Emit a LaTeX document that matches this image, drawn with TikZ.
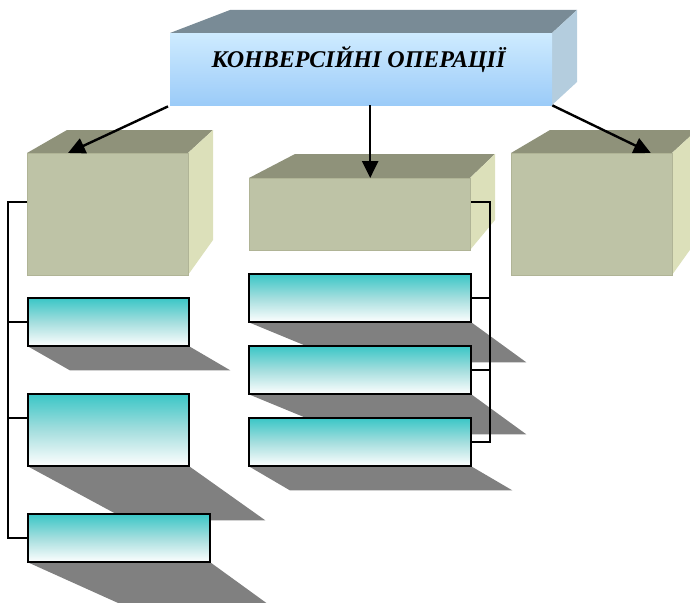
\documentclass[tikz,border=0pt]{standalone}
\usepackage{fontspec}
\setmainfont{Liberation Serif}
\usetikzlibrary{arrows.meta,calc}
\definecolor{frontC}{RGB}{190,195,166}
\definecolor{frontE}{RGB}{176,180,150}
\definecolor{topC}{RGB}{143,146,122}
\definecolor{sideC}{RGB}{220,224,186}
\definecolor{tfrontA}{RGB}{206,235,255}
\definecolor{tfrontB}{RGB}{155,203,248}
\definecolor{ttop}{RGB}{121,139,150}
\definecolor{tside}{RGB}{180,205,222}
\definecolor{tealA}{RGB}{58,198,198}
\definecolor{tealM}{RGB}{165,222,222}
\definecolor{shadowC}{RGB}{128,128,128}
\tikzset{
  cubefront/.style={anchor=north west, inner sep=0pt, fill=frontC, draw=frontE, line width=0.8pt},
  cubetop/.style={fill=topC},
  cubeside/.style={fill=sideC},
  leafpos/.style={anchor=north west, inner sep=0pt},
  leafbox/.style={draw=black, line width=2pt, top color=tealA, bottom color=white, middle color=tealM},
  shadowpoly/.style={fill=shadowC},
  conn/.style={draw=black, line width=2pt},
  mainarrow/.style={draw=black, line width=2.4pt, -{Triangle[length=17pt,width=16pt]}},
  titlefont/.style={font=\fontsize{24}{28}\selectfont\bfseries\itshape}
}
\begin{document}
\begin{tikzpicture}[x=1pt,y=-1pt]
\useasboundingbox (0,0) rectangle (690,602);
\clip (0,0) rectangle (690,602);

% leaf boxes (named positions)
\path (28,298) node[leafpos, minimum width=161pt, minimum height=48pt] (l1) {};
\path (28,394) node[leafpos, minimum width=161pt, minimum height=72pt] (l2) {};
\path (28,514) node[leafpos, minimum width=182pt, minimum height=48pt] (l3) {};
\path (249,274) node[leafpos, minimum width=222pt, minimum height=48pt] (m1) {};
\path (249,346) node[leafpos, minimum width=222pt, minimum height=48pt] (m2) {};
\path (249,418) node[leafpos, minimum width=222pt, minimum height=48pt] (m3) {};

% shadows
\fill[shadowpoly] (l1.south west) -- (l1.south east) -- ++(41,24) -- ($(l1.south west)+(42,24)$) -- cycle;
\fill[shadowpoly] (l2.south west) -- (l2.south east) -- ++(76,54) -- ($(l2.south west)+(100,54)$) -- cycle;
\fill[shadowpoly] (l3.south west) -- (l3.south east) -- ++(69,50) -- ($(l3.south west)+(111,50)$) -- cycle;
\fill[shadowpoly] (m1.south west) -- (m1.south east) -- ++(55,40) -- ($(m1.south west)+(97,40)$) -- cycle;
\fill[shadowpoly] (m2.south west) -- (m2.south east) -- ++(55,40) -- ($(m2.south west)+(97,40)$) -- cycle;
\fill[shadowpoly] (m3.south west) -- (m3.south east) -- ++(41,24) -- ($(m3.south west)+(41,24)$) -- cycle;

% title box
\fill[ttop] (170,33) -- (230,10) -- (577,10) -- (552,33) -- cycle;
\fill[tside] (552,33) -- (577,10) -- (577,82) -- (552,105) -- cycle;
\node[anchor=north west, inner sep=0pt, minimum width=382pt, minimum height=72pt,
      top color=tfrontA, bottom color=tfrontB] (top) at (170,33) {};
\node[titlefont, anchor=base] (title) at (358.5,67) {КОНВЕРСІЙНІ ОПЕРАЦІЇ};

% left cube
\fill[cubetop] (27,153) -- (67,130) -- (213,130) -- (188,153) -- cycle;
\fill[cubeside] (188,153) -- (213,130) -- (213,240) -- (188,275) -- cycle;
\node[cubefront, minimum width=161pt, minimum height=122pt] (L) at (27,153) {};

% middle cube
\fill[cubetop] (249,178) -- (295,154) -- (495,154) -- (470,178) -- cycle;
\fill[cubeside] (470,178) -- (495,154) -- (495,220) -- (470,250) -- cycle;
\node[cubefront, minimum width=221pt, minimum height=72pt] (M) at (249,178) {};

% right cube
\fill[cubetop] (511,153) -- (550,130) -- (697,130) -- (672,153) -- cycle;
\fill[cubeside] (672,153) -- (697,130) -- (697,240) -- (672,275) -- cycle;
\node[cubefront, minimum width=161pt, minimum height=122pt] (R) at (511,153) {};

% connectors
\coordinate (Lc) at ($(L.north west)+(0,49)$);
\coordinate (lbus) at (8,202);
\coordinate (l2c) at ($(l2.north west)+(0,24)$);
\draw[conn] (Lc) -- (lbus) -- (lbus |- l3.west) -- (l3.west);
\draw[conn] (lbus |- l1.west) -- (l1.west);
\draw[conn] (lbus |- l2c) -- (l2c);
\coordinate (Mc) at ($(M.north east)+(0,24)$);
\coordinate (mbus) at (490,202);
\draw[conn] (Mc) -- (mbus) -- (mbus |- m3.east) -- (m3.east);
\draw[conn] (m1.east) -- (m1.east -| mbus);
\draw[conn] (m2.east) -- (m2.east -| mbus);

% leaf boxes drawn
\foreach \n in {l1,l2,l3,m1,m2,m3}{
  \path[leafbox] (\n.north west) rectangle (\n.south east);
}

% arrows
\draw[mainarrow] ($(top.south west)+(-2,1)$) -- ($(L.north west)+(41,0)$);
\coordinate (midA) at ($(top.south)+(9,0)$);
\draw[mainarrow] (midA) -- (midA |- M.north);
\draw[mainarrow] (top.south east) -- ($(R.north east)+(-22,0)$);
\end{tikzpicture}
\end{document}
